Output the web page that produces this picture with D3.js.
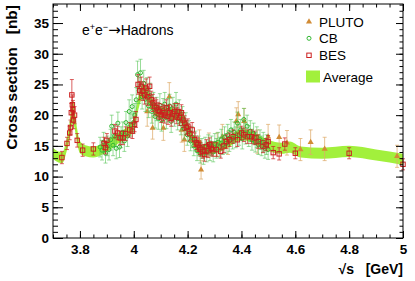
<!DOCTYPE html>
<html lang="en">
<head>
  <meta charset="UTF-8">
  <script src="https://d3js.org/d3.v7.min.js"></script>
  <title>e+e- to hadrons</title>
  <style>
    body {
      margin: 0;
      padding: 0;
      background-color: #fff;
    }
    text {
      font-family: "Liberation Sans", Arial, Helvetica, sans-serif;
    }
  </style>
</head>
<body>
  <div id="chart"></div>
  <script>
    // average band (centre and half width, nb)
    let avgE = [3.70, 3.72, 3.735, 3.75, 3.76, 3.77, 3.775, 3.78, 3.79, 3.80, 3.82, 3.85, 3.88, 3.91, 3.94, 3.97,
      4.00, 4.02, 4.035, 4.05, 4.07, 4.09, 4.12, 4.15, 4.18, 4.20, 4.22, 4.25, 4.28, 4.31, 4.35, 4.40,
      4.43, 4.46, 4.50, 4.55, 4.58, 4.62, 4.70, 4.80, 4.90, 5.00]
    let avgXS = [13.8, 13.2, 13.1, 15.0, 17.0, 20.0, 20.5, 19.5, 16.5, 14.8, 14.2, 14.0, 14.4, 15.2, 16.2, 17.0,
      18.5, 22.5, 24.0, 23.2, 21.5, 20.5, 20.3, 20.2, 19.5, 17.8, 16.0, 14.3, 14.6, 14.8, 15.6, 16.8,
      16.6, 16.0, 15.1, 14.6, 14.8, 14.0, 13.8, 14.1, 13.5, 12.8]
    let avgW = [0.9, 0.9, 0.9, 1.0, 1.2, 1.8, 1.8, 1.6, 1.2, 1.0, 0.9, 0.9, 0.9, 0.9, 0.9, 0.9,
      1.0, 1.1, 1.1, 1.0, 1.0, 0.9, 0.9, 0.9, 0.9, 0.9, 0.9, 0.9, 0.9, 0.9, 0.9, 0.9,
      0.9, 0.9, 0.9, 0.9, 0.9, 0.9, 0.9, 0.9, 0.9, 0.9]

    // BES
    let besE = [3.733, 3.752, 3.762, 3.765, 3.768, 3.770, 3.772, 3.774, 3.776, 3.780, 3.790, 3.810, 3.850, 3.890, 3.895, 3.900,
      3.930, 3.940, 3.950, 3.960, 3.970, 3.985, 3.995, 4.003, 4.008, 4.016, 4.022, 4.028, 4.034, 4.040, 4.046, 4.052,
      4.059, 4.065, 4.071, 4.078, 4.084, 4.090, 4.096, 4.102, 4.108, 4.115, 4.121, 4.127, 4.133, 4.139, 4.145, 4.152,
      4.158, 4.164, 4.170, 4.177, 4.183, 4.189, 4.195, 4.201, 4.208, 4.217, 4.226, 4.232, 4.238, 4.245, 4.248, 4.257,
      4.263, 4.270, 4.276, 4.282, 4.288, 4.294, 4.307, 4.323, 4.335, 4.344, 4.356, 4.369, 4.385, 4.400, 4.409, 4.422,
      4.437, 4.449, 4.462, 4.480, 4.492, 4.499, 4.518, 4.540, 4.561, 4.600, 4.800, 5.000]
    let besXS = [13.1, 15.4, 17.1, 18.0, 20.4, 23.3, 21.7, 20.9, 19.2, 20.0, 15.9, 14.3, 14.5, 15.4, 14.7, 15.9,
      17.4, 17.1, 16.3, 16.3, 17.0, 17.6, 17.4, 18.5, 19.3, 25.0, 24.0, 24.7, 23.9, 23.3, 24.4, 23.0,
      24.7, 22.5, 22.0, 21.5, 21.2, 20.8, 20.6, 20.1, 20.4, 20.0, 21.2, 19.8, 20.4, 19.5, 20.2, 20.6,
      19.9, 20.6, 19.6, 20.4, 19.2, 18.7, 18.0, 18.2, 17.0, 17.6, 16.0, 15.5, 15.2, 14.7, 14.4, 14.1,
      13.6, 14.9, 14.2, 15.2, 14.6, 14.4, 14.4, 14.1, 15.0, 15.7, 16.0, 16.5, 16.0, 17.1, 16.8, 16.5,
      16.5, 16.3, 15.7, 14.9, 15.2, 15.7, 13.9, 13.7, 15.3, 13.8, 13.8, 12.0]
    let besErr = [1.0, 1.0, 1.1, 1.2, 1.5, 2.5, 1.6, 1.5, 1.4, 1.4, 1.1, 1.0, 1.0, 1.0, 1.0, 1.1,
      1.1, 1.1, 1.1, 1.1, 1.1, 1.2, 1.2, 1.2, 1.3, 1.6, 1.5, 1.5, 1.5, 1.5, 1.5, 1.4,
      1.5, 1.4, 1.4, 1.3, 1.3, 1.3, 1.3, 1.3, 1.3, 1.3, 1.3, 1.3, 1.3, 1.3, 1.3, 1.3,
      1.3, 1.3, 1.3, 1.3, 1.2, 1.2, 1.2, 1.2, 1.2, 1.2, 1.1, 1.1, 1.1, 1.1, 1.1, 1.1,
      1.1, 1.1, 1.1, 1.1, 1.1, 1.1, 1.1, 1.1, 1.1, 1.1, 1.1, 1.1, 1.1, 1.1, 1.1, 1.1,
      1.1, 1.1, 1.1, 1.0, 1.0, 1.0, 1.0, 1.0, 1.0, 0.9, 0.9, 0.9]

    // Crystal Ball
    let cbE = [3.875, 3.882, 3.888, 3.895, 3.902, 3.908, 3.914, 3.918, 3.923, 3.929, 3.935, 3.941, 3.947, 3.953, 3.959, 3.965,
      3.971, 3.977, 3.983, 3.989, 3.994, 3.999, 4.004, 4.009, 4.014, 4.020, 4.025, 4.031, 4.037, 4.043, 4.049, 4.055,
      4.061, 4.067, 4.073, 4.079, 4.085, 4.091, 4.097, 4.103, 4.109, 4.115, 4.121, 4.127, 4.133, 4.139, 4.145, 4.151,
      4.157, 4.163, 4.169, 4.175, 4.181, 4.187, 4.193, 4.199, 4.205, 4.211, 4.217, 4.223, 4.229, 4.235, 4.241, 4.247,
      4.253, 4.259, 4.265, 4.271, 4.277, 4.283, 4.289, 4.295, 4.301, 4.307, 4.313, 4.319, 4.325, 4.331, 4.337, 4.343,
      4.349, 4.355, 4.361, 4.367, 4.373, 4.379, 4.385, 4.391, 4.397, 4.403, 4.409, 4.415, 4.421, 4.427, 4.433, 4.439,
      4.445, 4.451, 4.457, 4.463, 4.469, 4.475, 4.481, 4.487, 4.493, 4.499]
    let cbXS = [14.8, 14.3, 15.6, 13.8, 15.0, 14.4, 16.0, 18.2, 15.1, 16.6, 14.6, 18.7, 14.8, 16.4, 17.2, 15.8,
      18.8, 16.6, 20.6, 18.4, 21.4, 18.8, 20.0, 22.5, 26.6, 24.0, 26.9, 23.0, 25.2, 22.6, 24.0, 21.5,
      23.2, 20.6, 21.8, 19.8, 21.0, 19.5, 21.6, 19.2, 20.8, 21.8, 19.6, 20.8, 21.5, 19.0, 21.0, 20.0,
      21.8, 19.4, 20.6, 18.6, 19.6, 17.8, 18.6, 16.8, 17.4, 15.8, 16.4, 15.0, 15.8, 14.2, 15.0, 13.8,
      14.6, 13.6, 14.8, 14.0, 15.2, 14.2, 15.0, 14.0, 15.4, 14.6, 15.6, 14.8, 16.0, 15.2, 16.4, 15.4,
      16.8, 15.8, 17.6, 16.2, 17.2, 16.4, 18.7, 16.8, 17.6, 16.2, 19.3, 17.0, 18.2, 16.6, 17.4, 16.0,
      17.0, 15.6, 16.4, 15.2, 16.0, 15.0, 15.6, 14.6, 15.2, 14.4]
    let cbErr = [1.6, 1.6, 1.6, 1.6, 1.6, 1.7, 1.7, 1.8, 1.7, 1.7, 1.7, 1.8, 1.7, 1.7, 1.7, 1.7,
      1.8, 1.7, 1.9, 1.8, 1.9, 1.8, 1.9, 2.0, 2.2, 2.1, 2.2, 2.0, 2.1, 2.0, 2.1, 1.9,
      2.0, 1.9, 1.9, 1.9, 1.9, 1.8, 1.9, 1.8, 1.9, 1.9, 1.8, 1.9, 1.9, 1.8, 1.9, 1.8,
      1.9, 1.8, 1.9, 1.8, 1.8, 1.7, 1.8, 1.7, 1.7, 1.6, 1.7, 1.6, 1.6, 1.6, 1.6, 1.6,
      1.6, 1.6, 1.6, 1.6, 1.6, 1.6, 1.6, 1.6, 1.6, 1.6, 1.6, 1.6, 1.7, 1.6, 1.7, 1.6,
      1.7, 1.7, 1.7, 1.7, 1.7, 1.7, 1.8, 1.7, 1.7, 1.7, 1.8, 1.7, 1.8, 1.7, 1.7, 1.7,
      1.7, 1.6, 1.7, 1.6, 1.6, 1.6, 1.6, 1.6, 1.6, 1.6]

    // PLUTO
    let plutoE = [4.050, 4.070, 4.110, 4.132, 4.178, 4.188, 4.244, 4.250, 4.279, 4.310, 4.329, 4.350, 4.381, 4.388,
      4.410, 4.459, 4.499, 4.540, 4.569, 4.619, 4.657, 4.709, 4.978]
    let plutoXS = [20.6, 17.9, 17.9, 23.0, 17.6, 16.0, 15.7, 11.1, 15.2, 15.2, 16.5, 15.5, 19.0, 20.1,
      19.0, 15.7, 16.5, 16.4, 15.5, 14.4, 15.6, 14.5, 13.3]
    let plutoErr = [2.4, 1.8, 2.0, 2.3, 2.0, 1.9, 1.9, 1.5, 1.9, 1.9, 2.0, 1.9, 2.2, 2.1,
      2.1, 1.9, 2.0, 2.0, 2.0, 1.8, 2.0, 1.9, 1.8]

    let xMajor = [3.8, 4.0, 4.2, 4.4, 4.6, 4.8, 5.0]
    let yMajor = [0, 5, 10, 15, 20, 25, 30, 35]

    let width = 415,
      height = 281;
    let margin = { left: 53, right: 12, top: 4, bottom: 43 };
    let iw = width - margin.left - margin.right,
      ih = height - margin.top - margin.bottom;

    let svg = d3.select("#chart").append("svg")
      .attr("width", width)
      .attr("height", height)
    let g = svg.append("g").attr("transform", `translate(${margin.left},${margin.top})`)

    let x = d3.scaleLinear().domain([3.7, 5.0]).range([0, iw])
    let y = d3.scaleLinear().domain([0, 38.1]).range([ih, 0])

    let zip = (e, v, s) => e.map((d, i) => ({ e: d, v: v[i], s: s[i] }))
    let avg = zip(avgE, avgXS, avgW)
    let bes = zip(besE, besXS, besErr)
    let cb = zip(cbE, cbXS, cbErr)
    let pluto = zip(plutoE, plutoXS, plutoErr)

    let bandColor = "#a2f03c"

    // band
    let area = d3.area()
      .x(d => x(d.e))
      .y0(d => y(d.v - d.s))
      .y1(d => y(d.v + d.s))
      .curve(d3.curveMonotoneX)
    g.append("path").datum(avg)
      .attr("d", area)
      .attr("fill", bandColor)

    // error bars with small caps
    function errBars(data, color, op) {
      let eg = g.append("g").attr("stroke", color).attr("stroke-opacity", op).attr("stroke-width", 1)
      eg.selectAll("line.v").data(data).enter().append("line")
        .attr("x1", d => x(d.e)).attr("x2", d => x(d.e))
        .attr("y1", d => y(d.v - d.s)).attr("y2", d => y(d.v + d.s))
      eg.selectAll("line.t").data(data).enter().append("line")
        .attr("x1", d => x(d.e) - 2).attr("x2", d => x(d.e) + 2)
        .attr("y1", d => y(d.v + d.s)).attr("y2", d => y(d.v + d.s))
      eg.selectAll("line.b").data(data).enter().append("line")
        .attr("x1", d => x(d.e) - 2).attr("x2", d => x(d.e) + 2)
        .attr("y1", d => y(d.v - d.s)).attr("y2", d => y(d.v - d.s))
    }

    let plutoCol = "#d18b35",
      cbCol = "#33b833",
      besCol = "#cc1f1f"
    let tri = d3.symbol().type(d3.symbolTriangle).size(16)

    errBars(pluto, "#dfac6c", 0.75)
    g.append("g").selectAll("path").data(pluto).enter().append("path")
      .attr("d", tri)
      .attr("transform", d => `translate(${x(d.e)},${y(d.v)})`)
      .attr("fill", plutoCol)

    errBars(cb, "#55c455", 0.6)
    g.append("g").selectAll("circle").data(cb).enter().append("circle")
      .attr("cx", d => x(d.e)).attr("cy", d => y(d.v)).attr("r", 2)
      .attr("fill", "none").attr("stroke", cbCol).attr("stroke-width", 1)

    errBars(bes, besCol, 0.7)
    g.append("g").selectAll("rect").data(bes).enter().append("rect")
      .attr("x", d => x(d.e) - 2.2).attr("y", d => y(d.v) - 2.2)
      .attr("width", 4.4).attr("height", 4.4)
      .attr("fill", "none").attr("stroke", besCol).attr("stroke-width", 1)

    // axes (ticks inside, all four sides)
    let xMinor = d3.range(3.7, 5.0001, 0.05).map(d => +d.toFixed(2))
    let yMinor = d3.range(0, 39, 1)
    let fmtX = d => d === 4 || d === 5 ? String(d) : d3.format(".1f")(d)

    function styleAxis(sel) {
      sel.select(".domain").remove()
      sel.selectAll("line").attr("stroke", "#000")
      sel.selectAll("text").attr("font-family", "'Liberation Sans', Arial, sans-serif")
        .attr("font-size", 13.5).attr("font-weight", "bold").attr("fill", "#000")
    }

    g.append("g").attr("transform", `translate(0,${ih})`)
      .call(d3.axisBottom(x).tickValues(xMinor).tickSize(-3.5).tickFormat("")).call(styleAxis)
    g.append("g").attr("transform", `translate(0,${ih})`)
      .call(d3.axisBottom(x).tickValues(xMajor).tickSize(-7).tickPadding(6).tickFormat(fmtX)).call(styleAxis)
    g.append("g")
      .call(d3.axisTop(x).tickValues(xMinor).tickSize(-3.5).tickFormat("")).call(styleAxis)
    g.append("g")
      .call(d3.axisTop(x).tickValues(xMajor).tickSize(-7).tickFormat("")).call(styleAxis)

    g.append("g")
      .call(d3.axisLeft(y).tickValues(yMinor).tickSize(-5).tickFormat("")).call(styleAxis)
    g.append("g")
      .call(d3.axisLeft(y).tickValues(yMajor).tickSize(-10).tickPadding(4)).call(styleAxis)
    g.append("g").attr("transform", `translate(${iw},0)`)
      .call(d3.axisRight(y).tickValues(yMinor).tickSize(-3.5).tickFormat("")).call(styleAxis)
    g.append("g").attr("transform", `translate(${iw},0)`)
      .call(d3.axisRight(y).tickValues(yMajor).tickSize(-7).tickFormat("")).call(styleAxis)

    g.append("rect").attr("width", iw).attr("height", ih)
      .attr("fill", "none").attr("stroke", "#000").attr("stroke-width", 1)

    // axis titles
    svg.append("text")
      .attr("transform", `translate(16.5,5) rotate(-90)`)
      .attr("text-anchor", "end")
      .attr("font-size", 15.5).attr("font-weight", "bold")
      .attr("xml:space", "preserve")
      .text("Cross section   [nb]")
    svg.append("text")
      .attr("x", 403).attr("y", 274)
      .attr("text-anchor", "end")
      .attr("font-size", 14).attr("font-weight", "bold")
      .attr("xml:space", "preserve")
      .text("√s   [GeV]")

    // process label
    let lab = svg.append("text").attr("x", 82).attr("y", 35).attr("font-size", 14)
    lab.append("tspan").text("e")
    lab.append("tspan").attr("font-size", 9).attr("dy", -5.5).text("+")
    lab.append("tspan").attr("dy", 5.5).text("e")
    lab.append("tspan").attr("font-size", 9).attr("dy", -5.5).text("−")
    lab.append("tspan").attr("dy", 5.5).attr("font-family", "'DejaVu Sans', sans-serif").attr("font-size", 15).text("→")
    lab.append("tspan").text("Hadrons")

    // legend
    let leg = svg.append("g")
    let legNames = ["PLUTO", "CB", "BES", "Average"]
    let legY = [21.7, 38.3, 55.3, 76.5]
    leg.append("path").attr("d", tri).attr("transform", `translate(309,${legY[0]})`).attr("fill", plutoCol)
    leg.append("circle").attr("cx", 309).attr("cy", legY[1]).attr("r", 2)
      .attr("fill", "none").attr("stroke", cbCol)
    leg.append("rect").attr("x", 306.8).attr("y", legY[2] - 2.2).attr("width", 4.4).attr("height", 4.4)
      .attr("fill", "none").attr("stroke", besCol)
    leg.append("rect").attr("x", 306).attr("y", legY[3] - 6).attr("width", 14).attr("height", 12)
      .attr("fill", bandColor)
    leg.selectAll("text").data(legNames).enter().append("text")
      .attr("x", (d, i) => i === 3 ? 323 : 319)
      .attr("y", (d, i) => legY[i] + 5)
      .attr("font-size", 13.5)
      .text(d => d)
  </script>
</body>
</html>
